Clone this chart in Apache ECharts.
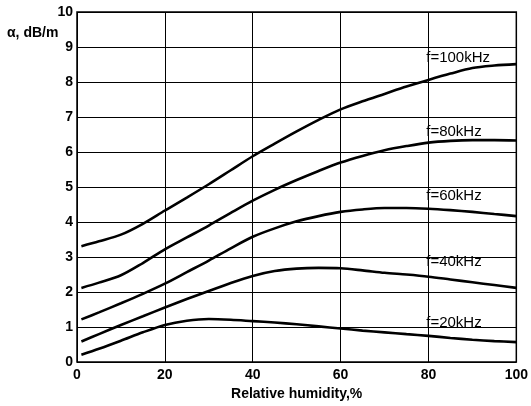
<!DOCTYPE html>
<html><head><meta charset="utf-8">
<script src="https://cdn.jsdelivr.net/npm/echarts@6/dist/echarts.min.js"></script>
<style>html,body{margin:0;padding:0;background:#fff}#c{width:531px;height:406px}</style>
</head><body><div id="c"></div>
<script>
const humidity = [1, 5, 10, 15, 20, 25, 30, 35, 40, 45, 50, 55, 60, 65, 70, 75, 80, 85, 90, 95, 100];
const f100 = [3.31, 3.45, 3.64, 3.95, 4.33, 4.70, 5.08, 5.48, 5.88, 6.24, 6.59, 6.92, 7.22, 7.45, 7.66, 7.87, 8.06, 8.24, 8.40, 8.47, 8.51];
const f80  = [2.12, 2.27, 2.48, 2.83, 3.22, 3.56, 3.90, 4.26, 4.61, 4.92, 5.20, 5.46, 5.70, 5.89, 6.05, 6.17, 6.27, 6.32, 6.34, 6.34, 6.33];
const f60  = [1.22, 1.42, 1.68, 1.95, 2.24, 2.57, 2.90, 3.25, 3.58, 3.82, 4.02, 4.17, 4.29, 4.36, 4.40, 4.40, 4.38, 4.34, 4.29, 4.23, 4.17];
const f40  = [0.59, 0.80, 1.06, 1.31, 1.56, 1.80, 2.03, 2.26, 2.46, 2.60, 2.67, 2.69, 2.68, 2.62, 2.55, 2.50, 2.44, 2.36, 2.28, 2.20, 2.12];
const f20  = [0.21, 0.38, 0.61, 0.85, 1.06, 1.18, 1.23, 1.21, 1.17, 1.13, 1.08, 1.02, 0.96, 0.90, 0.85, 0.80, 0.75, 0.69, 0.64, 0.60, 0.57];
const seriesNames = ['f=100kHz', 'f=80kHz', 'f=60kHz', 'f=40kHz', 'f=20kHz'];
const labelX = 79.5;
const labelY = [8.69, 6.59, 4.74, 2.87, 1.11];
const xTicks = [0, 20, 40, 60, 80, 100];
const yTicks = [0, 1, 2, 3, 4, 5, 6, 7, 8, 9, 10];

const all = [f100, f80, f60, f40, f20];
const chart = echarts.init(document.getElementById('c'));
const font = '"Liberation Sans", Arial, sans-serif';
const series = all.map((vals, i) => ({
  type: 'line',
  name: seriesNames[i],
  smooth: 0.3,
  symbol: 'none',
  lineStyle: { color: '#000', width: 2.6 },
  data: humidity.map((h, j) => [h, vals[j]]),
  markPoint: {
    symbol: 'circle', symbolSize: 0,
    label: { show: true, position: 'right', distance: 0, formatter: seriesNames[i],
      color: '#000', fontFamily: font, fontSize: 15, fontWeight: 'normal' },
    data: [{ coord: [labelX, labelY[i]] }]
  },
  z: 3
}));
chart.setOption({
  animation: false,
  backgroundColor: '#fff',
  grid: { left: 77, right: 14, top: 12, bottom: 42, show: true, borderColor: '#000', borderWidth: 1.5 },
  xAxis: {
    type: 'value', min: 0, max: 100, interval: 20,
    name: 'Relative humidity,%', nameLocation: 'middle', nameGap: 24,
    nameTextStyle: { color: '#000', fontFamily: font, fontSize: 14, fontWeight: 'bold' },
    axisLine: { show: false }, axisTick: { show: false },
    axisLabel: { color: '#000', fontFamily: font, fontSize: 14, fontWeight: 'bold', margin: 6,
      formatter: v => xTicks.includes(v) ? String(v) : '' },
    splitLine: { show: true, lineStyle: { color: '#000', width: 1 } }
  },
  yAxis: {
    type: 'value', min: 0, max: 10, interval: 1,
    axisLine: { show: false }, axisTick: { show: false },
    axisLabel: { color: '#000', fontFamily: font, fontSize: 14, fontWeight: 'bold', margin: 4,
      formatter: v => yTicks.includes(v) ? String(v) : '' },
    splitLine: { show: true, lineStyle: { color: '#000', width: 1 } }
  },
  graphic: [{ type: 'text', left: 7, top: 26,
    style: { text: 'α, dB/m', fill: '#000', font: 'bold 14px ' + font } }],
  series: series
});
</script></body></html>
